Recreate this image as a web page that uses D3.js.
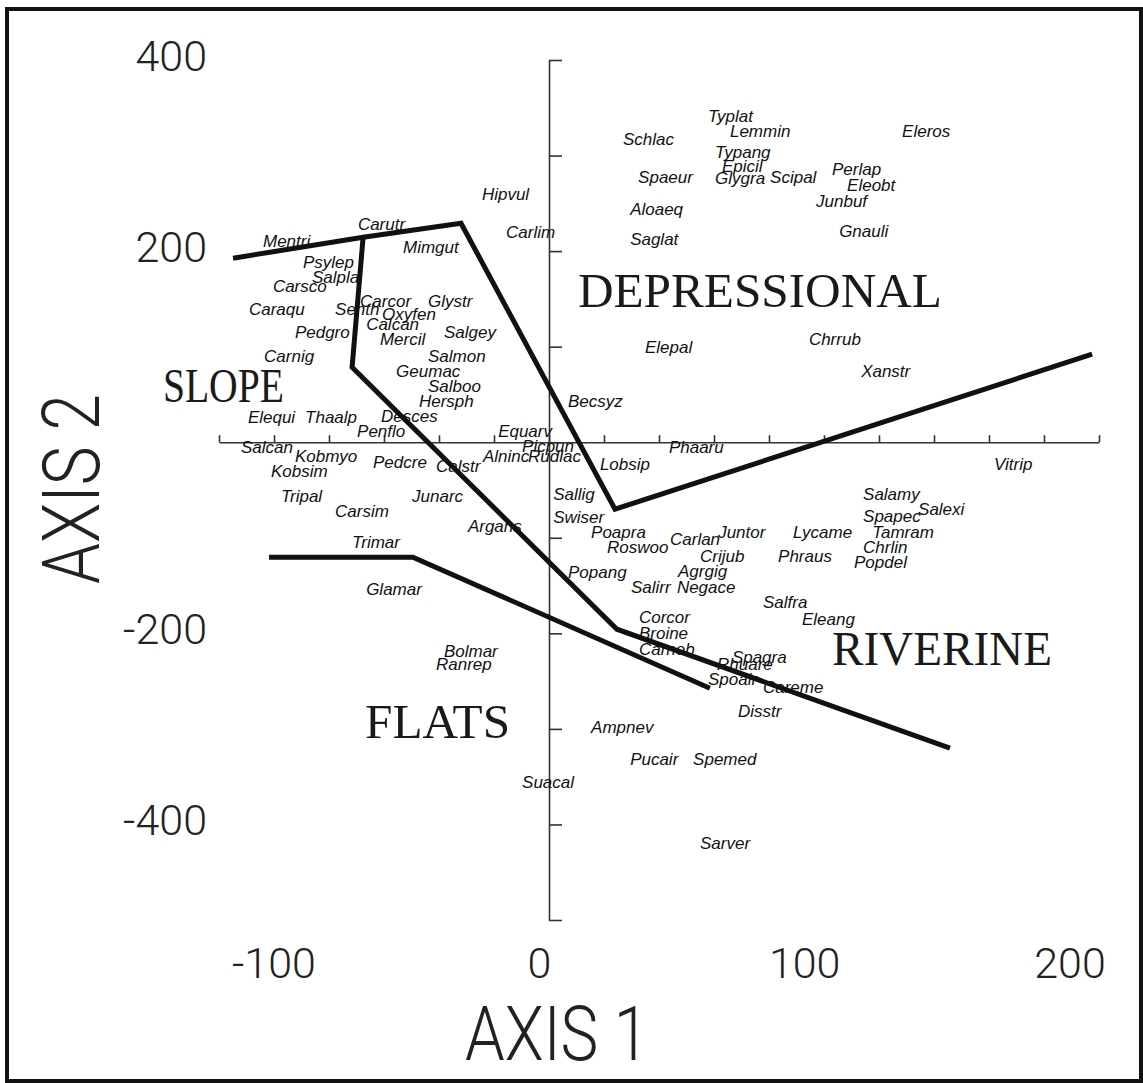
<!DOCTYPE html>
<meta charset="utf-8">
<style>
  body { margin: 0; background: #fff; }
</style>

<!-- Load d3.js -->
<script src="https://d3js.org/d3.v7.min.js"></script>

<!-- Create a div where the graph will take place -->
<div id="my_dataviz"></div>

<script>
// species scores (axis 1, axis 2)
const species = ["Mentri","Carutr","Psylep","Salpla","Carsco","Hipvul","Carlim","Mimgut","Schlac","Typlat",
  "Lemmin","Spaeur","Typang","Epicil","Glygra","Aloaeq","Saglat","Eleros","Scipal","Perlap",
  "Eleobt","Junbuf","Gnauli","Caraqu","Senth","Carcor","Glystr","Oxyfen","Calcan","Pedgro",
  "Mercil","Salgey","Carnig","Salmon","Geumac","Salboo","Hersph","Elequi","Thaalp","Desces",
  "Penflo","Equarv","Salcan","Kobmyo","Pedcre","Alninc","Picpun","Rudlac","Kobsim","Calstr",
  "Elepal","Chrrub","Xanstr","Becsyz","Phaaru","Lobsip","Vitrip","Tripal","Carsim","Junarc",
  "Argans","Trimar","Glamar","Sallig","Swiser","Poapra","Roswoo","Carlan","Juntor","Crijub",
  "Lycame","Phraus","Popang","Agrgig","Salirr","Negace","Salfra","Eleang","Corcor","Broine",
  "Carneb","Spagra","Rhuare","Spoair","Careme","Salamy","Salexi","Spapec","Tamram","Chrlin",
  "Popdel","Bolmar","Ranrep","Suacal","Disstr","Ampnev","Pucair","Spemed","Sarver"];
const axis1 = [-104.0,-69.5,-89.5,-86.2,-100.4,-24.4,-15.6,-53.1,26.9,57.8,
  65.8,32.4,60.4,62.9,60.4,29.5,29.5,128.4,80.4,102.9,
  108.4,97.1,105.5,-109.1,-77.8,-68.7,-44.0,-60.7,-66.5,-92.4,
  -61.5,-38.2,-103.6,-44.0,-55.6,-44.0,-47.3,-109.5,-88.7,-61.1,
  -69.8,-18.5,-112.0,-92.4,-64.0,-24.0,-9.8,-7.6,-101.1,-41.1,
  34.9,94.5,113.5,6.9,43.6,18.5,161.8,-97.5,-77.8,-49.8,
  -29.5,-71.6,-66.5,1.5,1.5,15.3,21.1,44.0,61.5,54.9,
  88.7,83.3,6.9,46.9,29.8,46.5,77.8,92.0,32.7,32.7,
  32.7,66.5,61.1,57.8,77.8,114.2,134.2,114.2,117.5,114.2,
  110.9,-38.2,-41.1,-9.8,68.7,15.3,29.5,52.4,54.9];
const axis2 = [204.1,221.9,182.1,166.4,157.0,253.3,213.5,197.8,310.8,334.9,
  319.2,271.0,297.2,282.6,270.0,237.6,206.2,319.2,271.0,279.4,
  262.7,245.9,214.5,132.9,132.9,141.3,141.3,127.7,117.2,108.8,
  101.5,108.8,83.7,83.7,68.0,52.3,36.6,19.9,19.9,20.9,
  5.2,5.2,-11.5,-20.9,-27.2,-20.9,-10.5,-20.9,-36.6,-31.4,
  93.1,101.5,68.0,36.6,-11.5,-29.3,-29.3,-62.8,-78.5,-62.8,
  -94.2,-110.9,-160.1,-60.7,-84.8,-100.5,-116.2,-107.8,-100.5,-125.6,
  -100.5,-125.6,-142.3,-141.3,-158.0,-158.0,-173.7,-191.5,-189.4,-206.2,
  -222.9,-231.3,-238.6,-254.3,-262.7,-60.7,-76.4,-83.7,-100.5,-116.2,
  -131.9,-225.0,-238.6,-362.1,-287.8,-304.5,-338.0,-338.0,-425.9];

// group boundaries drawn by hand on the ordination
const upperX = [-114.9, -67.6, -32.0, 24.0, 197.5];
const upperY = [192.6, 214.5, 229.2, -70.1, 92.1];
const innerX = [-67.6, -71.6, 24.7, 145.8];
const innerY = [214.5, 78.5, -195.7, -320.2];
const flatsX = [-101.8, -49.5, 58.5];
const flatsY = [-120.3, -120.3, -257.4];

// group names
const groups = ["DEPRESSIONAL", "SLOPE", "RIVERINE", "FLATS"];
const groupX = [10.5, -140.4, 102.9, -66.9];
const groupY = [141.3, 41.9, -233.4, -309.8];

// ticks and tick labels
const xTicks = [-120,-100,-80,-60,-40,-20,0,20,40,60,80,100,120,140,160,180,200];
const yTicks = [400,300,200,100,0,-100,-200,-300,-400,-500];
const xTickLabels = [-100, 0, 100, 200];
const yTickLabels = [400, 200, -200, -400];

const W = 1143, H = 1083;

const svg = d3.select("#my_dataviz")
  .append("svg")
  .attr("width", W)
  .attr("height", H);

// outer frame
svg.append("rect")
  .attr("x", 7).attr("y", 9)
  .attr("width", 1134).attr("height", 1072)
  .attr("fill", "none")
  .attr("stroke", "#111")
  .attr("stroke-width", 4);

// scales
const x = d3.scaleLinear().domain([-120, 200]).range([219, 1099]);
const y = d3.scaleLinear().domain([-500, 400]).range([920, 60]);
// the number row under the plot was set slightly tighter than the ticks
const xLab = d3.scaleLinear().domain([-100, 200]).range([274, 1070]);

// axis 1 through the origin, ticks pointing up
svg.append("g")
  .attr("transform", `translate(0, ${y(0)})`)
  .call(d3.axisBottom(x).tickValues(xTicks).tickSize(-7).tickSizeOuter(0).tickFormat(""))
  .call(g => g.selectAll("path, line").attr("stroke", "#333").attr("stroke-width", 1.6));

// axis 2 through the origin, ticks pointing right
svg.append("g")
  .attr("transform", `translate(${x(0)}, 0)`)
  .call(d3.axisRight(y).tickValues(yTicks).tickSize(13).tickSizeOuter(0).tickFormat(""))
  .call(g => g.selectAll("path, line").attr("stroke", "#333").attr("stroke-width", 1.6));

// tick numbers
const numFont = "Roboto, 'Liberation Sans', sans-serif";

svg.append("g")
  .selectAll("text")
  .data(xTickLabels)
  .join("text")
    .attr("x", d => xLab(d))
    .attr("y", 978)
    .attr("text-anchor", "middle")
    .style("font-family", numFont)
    .style("font-weight", 300)
    .style("font-size", "43px")
    .attr("fill", "#222")
    .text(d => d);

svg.append("g")
  .selectAll("text")
  .data(yTickLabels)
  .join("text")
    .attr("x", 207)
    .attr("y", d => y(d) + 11)
    .attr("text-anchor", "end")
    .style("font-family", numFont)
    .style("font-weight", 300)
    .style("font-size", "43px")
    .attr("fill", "#222")
    .text(d => d);

// axis titles
svg.append("text")
  .attr("x", 557)
  .attr("y", 1060)
  .attr("text-anchor", "middle")
  .attr("textLength", 184)
  .attr("lengthAdjust", "spacingAndGlyphs")
  .style("font-family", numFont)
  .style("font-weight", 300)
  .style("font-size", "76px")
  .attr("fill", "#222")
  .text("AXIS 1");

svg.append("text")
  .attr("transform", "translate(99, 489) rotate(-90)")
  .attr("text-anchor", "middle")
  .attr("textLength", 190)
  .attr("lengthAdjust", "spacingAndGlyphs")
  .style("font-family", numFont)
  .style("font-weight", 300)
  .style("font-size", "80px")
  .attr("fill", "#222")
  .text("AXIS 2");

// boundary lines
const line = d3.line()
  .x(d => x(d[0]))
  .y(d => y(d[1]));

[[upperX, upperY], [innerX, innerY], [flatsX, flatsY]].forEach(function (b) {
  svg.append("path")
    .datum(b[0].map((v, i) => [v, b[1][i]]))
    .attr("d", line)
    .attr("fill", "none")
    .attr("stroke", "#111")
    .attr("stroke-width", 5)
    .attr("stroke-linejoin", "miter");
});

// group names
const groupLen = [364, 121, 220, 145];
svg.append("g")
  .selectAll("text")
  .data(groups)
  .join("text")
    .attr("x", (d, i) => x(groupX[i]))
    .attr("y", (d, i) => y(groupY[i]))
    .attr("textLength", (d, i) => groupLen[i])
    .attr("lengthAdjust", "spacingAndGlyphs")
    .style("font-family", "'Liberation Serif', 'Times New Roman', serif")
    .style("font-size", "48px")
    .attr("fill", "#1a1a1a")
    .text(d => d);

// species labels
svg.append("g")
  .selectAll("text")
  .data(species)
  .join("text")
    .attr("x", (d, i) => x(axis1[i]))
    .attr("y", (d, i) => y(axis2[i]))
    .style("font-family", "'Liberation Sans', Arial, sans-serif")
    .style("font-style", "italic")
    .style("font-size", "17px")
    .attr("fill", "#111")
    .text(d => d);
</script>
